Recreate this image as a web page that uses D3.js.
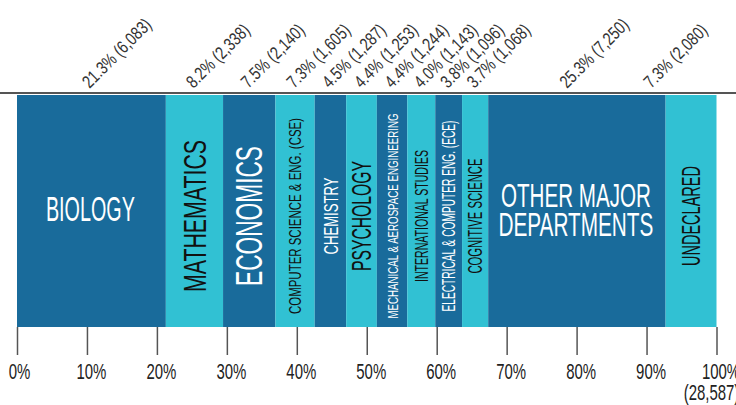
<!DOCTYPE html>
<html>
<head>
<meta charset="utf-8">
<script src="https://cdn.jsdelivr.net/npm/d3@7"></script>
<style>
  html, body { margin: 0; padding: 0; background: #fff; overflow: hidden; }
  svg { display: block; }
  text { font-family: "Liberation Sans", Arial, sans-serif; }
</style>
</head>
<body>
<svg id="chart" width="736" height="405"></svg>
<script>
// ---- data ----
const departments = [
  "BIOLOGY", "MATHEMATICS", "ECONOMICS", "COMPUTER SCIENCE & ENG. (CSE)", "CHEMISTRY",
  "PSYCHOLOGY", "MECHANICAL & AEROSPACE ENGINEERING", "INTERNATIONAL STUDIES",
  "ELECTRICAL & COMPUTER ENG. (ECE)", "COGNITIVE SCIENCE", "OTHER MAJOR DEPARTMENTS", "UNDECLARED"
];
const students = [6083, 2338, 2140, 1605, 1287, 1253, 1244, 1143, 1096, 1068, 7250, 2080];
const percentLabels = ["21.3%", "8.2%", "7.5%", "7.3%", "4.5%", "4.4%", "4.4%", "4.0%", "3.8%", "3.7%", "25.3%", "7.3%"];
const tickValues = [0, 0.1, 0.2, 0.3, 0.4, 0.5, 0.6, 0.7, 0.8, 0.9, 1];
const tickLabels = ["0%", "10%", "20%", "30%", "40%", "50%", "60%", "70%", "80%", "90%", "100%"];
const totalLabel = "(28,587)";

// ---- label styling (presentation only) ----
// mode: h = horizontal, v = vertical (reads bottom to top); topShift = nudge of the rotated top label
const labelStyle = [
  { mode: "h", size: 35, len: [89], lines: ["BIOLOGY"], base: [221], topShift: -2 },
  { mode: "v", size: 31, len: 152, topShift: -1 },
  { mode: "v", size: 36, len: 140, topShift: -1 },
  { mode: "v", size: 17, len: 196, topShift: -1 },
  { mode: "v", size: 21, len: 77, topShift: -1 },
  { mode: "v", size: 27, len: 110, topShift: 0 },
  { mode: "v", size: 15.5, len: 205, topShift: 0 },
  { mode: "v", size: 18, len: 132, topShift: 0 },
  { mode: "v", size: 17.5, len: 191, topShift: -1 },
  { mode: "v", size: 19.5, len: 115, topShift: -1 },
  { mode: "h", size: 33.5, len: [150, 155], lines: ["OTHER MAJOR", "DEPARTMENTS"], base: [207, 236], topShift: -10 },
  { mode: "v", size: 25, len: 100, topShift: -40 }
];

const colors = ["#196b9b", "#31c1d3"];
const textColors = ["#ffffff", "#111111"];

const svg = d3.select("#chart");
const W = 736, H = 405;
const barTop = 95, barBottom = 327;

const total = d3.sum(students);
const x = d3.scaleLinear().domain([0, 1]).range([17, 716.5]);

let cum = 0;
const data = students.map((v, i) => {
  const d = { i, name: departments[i], value: v, pct: percentLabels[i], x0: cum / total, x1: (cum + v) / total };
  cum += v;
  return d;
});

// top rule
svg.append("line")
  .attr("x1", 0).attr("x2", W)
  .attr("y1", 93).attr("y2", 93)
  .attr("stroke", "#555").attr("stroke-width", 2);

// bars
svg.append("g").selectAll("rect").data(data).join("rect")
  .attr("x", d => x(d.x0))
  .attr("y", barTop)
  .attr("width", d => x(d.x1) - x(d.x0))
  .attr("height", barBottom - barTop)
  .attr("fill", d => colors[d.i % 2]);

// top rotated labels
const fmt = d3.format(",");
svg.append("g").selectAll("text").data(data).join("text")
  .attr("transform", d => `translate(${(x(d.x0) + x(d.x1)) / 2 + labelStyle[d.i].topShift},89) rotate(-45) scale(0.79,1)`)
  .attr("font-size", 18)
  .attr("fill", "#333")
  .text(d => `${d.pct} (${fmt(d.value)})`);

// in-bar labels
const lab = svg.append("g");
data.forEach(d => {
  const s = labelStyle[d.i];
  const cx = (x(d.x0) + x(d.x1)) / 2;
  const col = textColors[d.i % 2];
  if (s.mode === "v") {
    lab.append("text")
      .attr("transform", `translate(${cx},216) rotate(-90)`)
      .attr("text-anchor", "middle")
      .attr("dy", "0.36em")
      .attr("font-size", s.size)
      .attr("fill", col)
      .attr("textLength", s.len)
      .attr("lengthAdjust", "spacingAndGlyphs")
      .text(d.name);
  } else {
    s.lines.forEach((ln, k) => {
      lab.append("text")
        .attr("x", cx - 1)
        .attr("y", s.base[k])
        .attr("text-anchor", "middle")
        .attr("font-size", s.size)
        .attr("fill", col)
        .attr("textLength", s.len[k])
        .attr("lengthAdjust", "spacingAndGlyphs")
        .text(ln);
    });
  }
});

// bottom axis
const axis = d3.axisBottom(x)
  .tickValues(tickValues)
  .tickSize(28)
  .tickFormat((v, i) => tickLabels[i]);
const ax = svg.append("g").attr("transform", `translate(0,${barBottom})`).call(axis);
ax.select(".domain").remove();
ax.selectAll(".tick line").attr("stroke", "#555").attr("stroke-width", 1.5);
ax.selectAll(".tick text").remove();
ax.selectAll(".tick").each(function(v, i) {
  const t = d3.select(this).append("text")
    .attr("transform", `translate(${i === 0 ? 2 : 4},52) scale(0.68,1)`)
    .attr("text-anchor", "middle")
    .attr("font-size", 22)
    .attr("fill", "#222");
  t.append("tspan").attr("x", 0).attr("y", 0).text(tickLabels[i]);
  if (i === tickLabels.length - 1) {
    t.append("tspan").attr("x", -14).attr("y", 21).text(totalLabel);
  }
});
</script>
</body>
</html>
